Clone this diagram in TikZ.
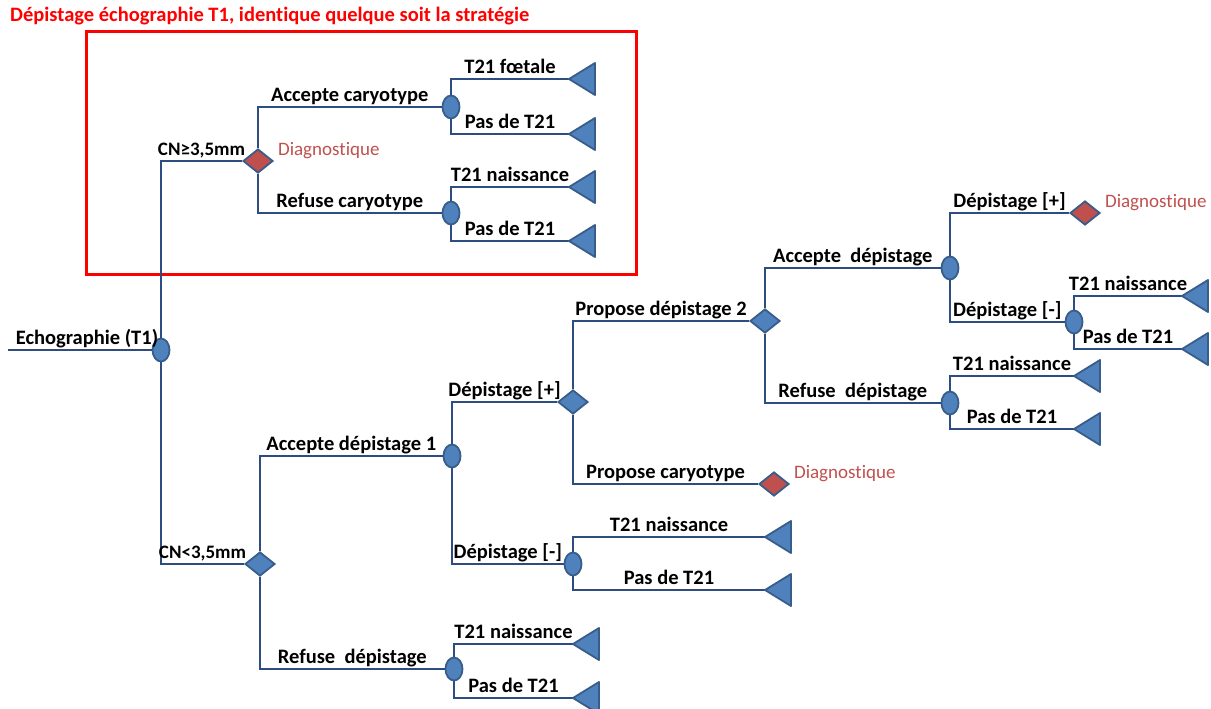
\documentclass[tikz,border=0pt]{standalone}
\usepackage{fontspec}
\setmainfont{Carlito}[RawFeature={-liga}]
\usetikzlibrary{shapes.geometric}
\definecolor{edgecol}{HTML}{2C4C82}
\definecolor{nodefill}{HTML}{4F81BD}
\definecolor{nodeline}{HTML}{385D8A}
\definecolor{diagred}{HTML}{C0504D}
\tikzset{
 conn/.style={draw=edgecol, line width=2.6pt},
 chance/.style={ellipse, fill=nodefill, draw=nodeline, line width=1.8pt, minimum width=17pt, minimum height=23pt, inner sep=0pt},
 decision/.style={diamond, fill=nodefill, draw=nodeline, line width=1.8pt, minimum width=30pt, minimum height=24pt, inner sep=0pt},
 diagdec/.style={decision, fill=diagred},
 term/.style={fill=nodefill, draw=nodeline, line width=1.8pt, line join=round},
 lab/.style={font=\fontsize{20.5}{20.5}\selectfont\bfseries, anchor=base, yshift=5.5pt, inner sep=0pt, text=black},
 cnlab/.style={lab, font=\fontsize{19}{19}\selectfont\bfseries},
 diag/.style={font=\fontsize{19}{19}\selectfont, text=diagred, anchor=base west, inner sep=0pt},
}
\newcommand\leafmark[1]{\filldraw[term] (#1) -- ++(26,-16) -- ++(0,32) -- cycle;}
\begin{document}
\begin{tikzpicture}[x=1pt,y=-1pt]
\useasboundingbox (0,0) rectangle (1211,709);
% title and frame
\node[anchor=base west, inner sep=0pt, text=red, font=\fontsize{20.5}{20.5}\selectfont\bfseries] (title) at (10,22) {Dépistage échographie T1, identique quelque soit la stratégie};
\draw[red, line width=3pt] (86,32) rectangle (636,274);
% nodes
\coordinate (root) at (8,350);
\node[chance] (c0) at (161,350) {};
\node[diagdec] (d1) at (258,161) {};
\node[chance] (c1) at (451,107) {};
\node[chance] (c2) at (451,213) {};
\node[decision] (d2) at (260,564) {};
\node[chance] (c3) at (452,456) {};
\node[chance] (c8) at (454,669) {};
\node[decision] (d3) at (573,402) {};
\node[chance] (c4) at (573,564) {};
\node[decision] (d4) at (765,321) {};
\node[diagdec] (d6) at (774,484) {};
\node[chance] (c5) at (950,268) {};
\node[chance] (c7) at (950,403) {};
\node[diagdec] (d5) at (1085,213) {};
\node[chance] (c6) at (1074,322) {};
% leaf tips
\coordinate (a1) at (569,79);
\coordinate (a2) at (569,134);
\coordinate (a3) at (569,187);
\coordinate (a4) at (569,241);
\coordinate (b1) at (1182,296);
\coordinate (b2) at (1182,349);
\coordinate (b3) at (1074,376);
\coordinate (b4) at (1074,429);
\coordinate (b5) at (765,537);
\coordinate (b6) at (765,590);
\coordinate (b7) at (573,644);
\coordinate (b8) at (573,698);
% connectors
\draw[conn] (root) -- node[lab,pos=.55]{Echographie (T1)} (c0);
\draw[conn] (c0) |- node[cnlab,pos=.75]{CN≥3,5mm} (d1);
\draw[conn] (c0) |- node[cnlab,pos=.75]{CN<3,5mm} (d2);
\draw[conn] (d1) |- node[lab,pos=.75]{Accepte caryotype} (c1);
\draw[conn] (d1) |- node[lab,pos=.75]{Refuse caryotype} (c2);
\draw[conn] (c1) |- node[lab,pos=.75]{T21 fœtale} (a1);
\draw[conn] (c1) |- node[lab,pos=.75]{Pas de T21} (a2);
\draw[conn] (c2) |- node[lab,pos=.75]{T21 naissance} (a3);
\draw[conn] (c2) |- node[lab,pos=.75]{Pas de T21} (a4);
\draw[conn] (d2) |- node[lab,pos=.75]{Accepte dépistage 1} (c3);
\draw[conn] (d2) |- node[lab,pos=.75]{Refuse\ \ dépistage} (c8);
\draw[conn] (c3) |- node[lab,pos=.75]{Dépistage [+]} (d3);
\draw[conn] (c3) |- node[lab,pos=.75]{Dépistage [-]} (c4);
\draw[conn] (d3) |- node[lab,pos=.75]{Propose dépistage 2} (d4);
\draw[conn] (d3) |- node[lab,pos=.75]{Propose caryotype} (d6);
\draw[conn] (d4) |- node[lab,pos=.75]{Accepte\ \ dépistage} (c5);
\draw[conn] (d4) |- node[lab,pos=.75]{Refuse\ \ dépistage} (c7);
\draw[conn] (c5) |- node[lab,pos=.75]{Dépistage [+]} (d5);
\draw[conn] (c5) |- node[lab,pos=.75]{Dépistage [-]} (c6);
\draw[conn] (c6) |- node[lab,pos=.75]{T21 naissance} (b1);
\draw[conn] (c6) |- node[lab,pos=.75]{Pas de T21} (b2);
\draw[conn] (c7) |- node[lab,pos=.75]{T21 naissance} (b3);
\draw[conn] (c7) |- node[lab,pos=.75]{Pas de T21} (b4);
\draw[conn] (c4) |- node[lab,pos=.75]{T21 naissance} (b5);
\draw[conn] (c4) |- node[lab,pos=.75]{Pas de T21} (b6);
\draw[conn] (c8) |- node[lab,pos=.75]{T21 naissance} (b7);
\draw[conn] (c8) |- node[lab,pos=.75]{Pas de T21} (b8);
% leaves
\leafmark{a1}\leafmark{a2}\leafmark{a3}\leafmark{a4}
\leafmark{b1}\leafmark{b2}\leafmark{b3}\leafmark{b4}
\leafmark{b5}\leafmark{b6}\leafmark{b7}\leafmark{b8}
% diagnostic labels
\node[diag] (g1) at ([xshift=4pt,yshift=6pt]d1.east) {Diagnostique};
\node[diag] (g2) at ([xshift=4pt,yshift=6pt]d5.east) {Diagnostique};
\node[diag] (g3) at ([xshift=4pt,yshift=6pt]d6.east) {Diagnostique};
\end{tikzpicture}
\end{document}
